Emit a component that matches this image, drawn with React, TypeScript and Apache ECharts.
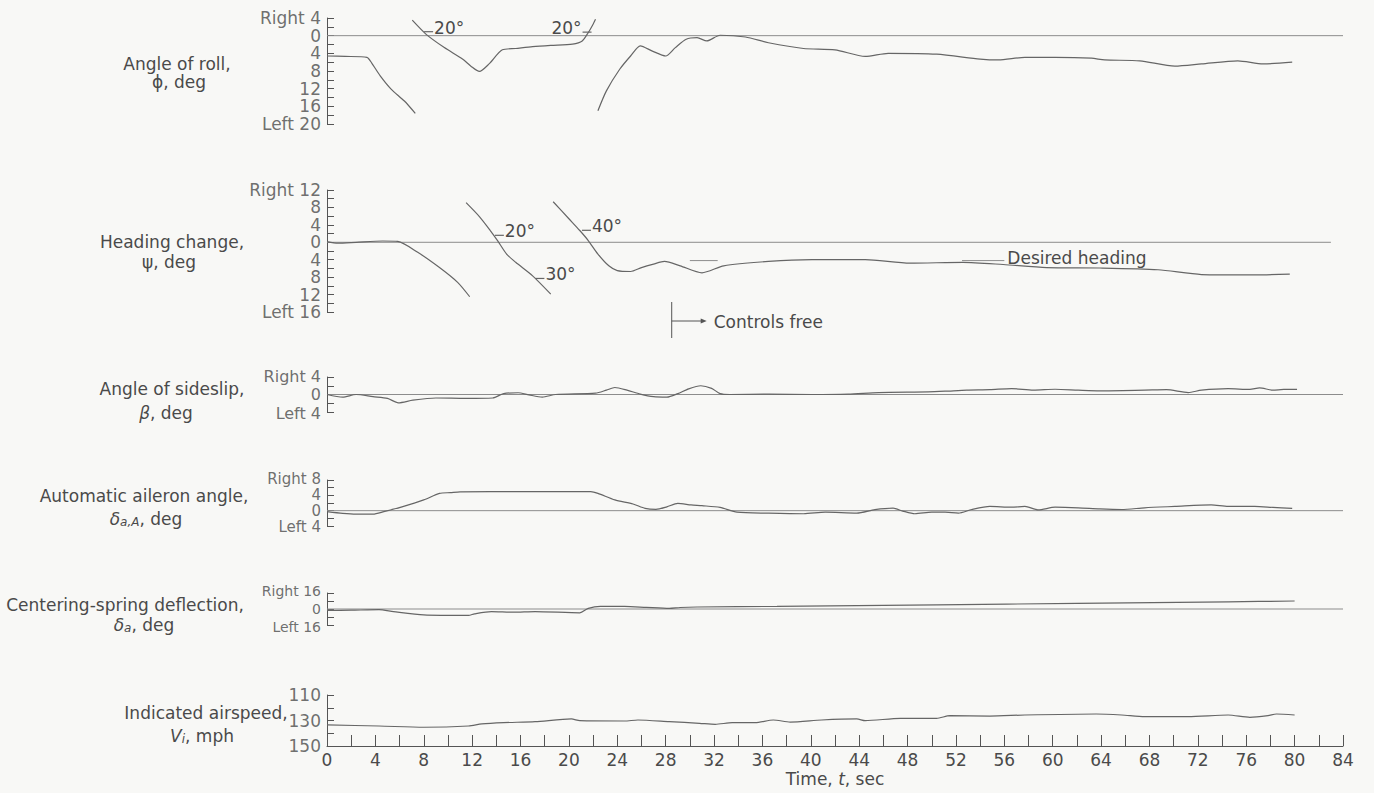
import React, { useEffect, useRef } from 'react';
import * as echarts from 'echarts';

// ---------- DATA (time in sec, values: right positive, left negative) ----------
const zeroSpan = [0, 84];
const headingZeroSpan = [0, 83];

const rollSegA = [[0, -4.6], [1.5, -4.7], [3.3, -4.9], [3.7, -6.2], [4.4, -9.1], [5.3, -12.1], [6.4, -14.8], [7.3, -17.6]];
const rollSegB = [[7.05, 3.5], [8.2, 0.3], [9.7, -2.7], [11.2, -5.3], [11.9, -6.9], [12.6, -8.1], [13.4, -6.4], [14.5, -3.2], [15.6, -2.9], [17.0, -2.5], [18.5, -2.2], [20.3, -1.9], [21.1, -1.2], [21.6, 0.7], [22.0, 2.6], [22.2, 3.7]];
const rollSegC = [[22.4, -17], [23.1, -12.5], [24.2, -7.6], [25.1, -4.6], [25.9, -2.3], [26.9, -3.5], [28.0, -4.6], [28.8, -2.7], [29.7, -0.8], [30.6, -0.45], [31.4, -1.2], [32.5, 0.1], [34.6, -0.3], [36.5, -1.6], [39.4, -2.9], [42.0, -3.2], [44.5, -4.7], [46.4, -4.0], [50.4, -4.2], [54.0, -5.3], [55.5, -5.5], [57.7, -4.9], [60.2, -4.9], [63.2, -5.1], [64.3, -5.5], [67.2, -5.7], [70.1, -6.9], [72.3, -6.4], [75.3, -5.7], [77.4, -6.4], [79.8, -6.0]];
const rollMarks = [
  { t: 8.4, v: 0.9, text: '20°', side: 'right' },
  { t: 21.5, v: 0.8, text: '20°', side: 'left' },
];

const headSegA = [[0, 0.16], [0.9, -0.2], [2.4, 0], [4.6, 0.3], [5.85, 0.2], [7.5, -2.3], [9.3, -5.8], [10.8, -9.2], [11.8, -12.5]];
const headSegB = [[11.5, 9.1], [12.6, 5.9], [13.5, 2.7], [14.1, 0.4], [14.85, -2.7], [15.6, -4.6], [17.0, -7.7], [18.5, -11.9]];
const headSegC = [[18.7, 9.3], [20.0, 5.4], [20.9, 2.7], [21.6, 0.4], [22.4, -2.7], [23.3, -5.4], [24.0, -6.5], [25.1, -6.7], [26.0, -5.8], [27.0, -5.0], [27.9, -4.4], [29.2, -5.4], [31.0, -7.0], [32.8, -5.4], [36.5, -4.4], [40.1, -4.0], [44.5, -4.0], [48.2, -4.8], [52.6, -4.6], [55.9, -5.1], [59.5, -5.8], [63.9, -5.9], [68.7, -6.3], [72.3, -7.4], [76.7, -7.5], [79.6, -7.3]];
const headMarks = [
  { t: 14.25, v: 1.6, text: '20°', side: 'right' },
  { t: 17.6, v: -8.3, text: '30°', side: 'right' },
  { t: 21.45, v: 2.75, text: '40°', side: 'right' },
];
const desiredHeading1 = [[30.0, -4.2], [32.3, -4.2]];
const desiredHeading2 = [[52.5, -4.2], [56.0, -4.2]];
const controlsFreeTime = 28.5;

const sideslip = [[0, 0], [1.3, -0.6], [2.4, 0], [3.8, -0.5], [5.0, -0.9], [5.9, -1.9], [7.1, -1.3], [9.0, -0.8], [11.5, -0.9], [13.7, -0.8], [14.6, 0.2], [15.8, 0.4], [16.7, -0.1], [17.8, -0.6], [18.9, 0], [22.2, 0.3], [23.1, 1.0], [23.8, 1.6], [24.8, 1.0], [25.9, 0.1], [27.0, -0.5], [28.1, -0.6], [29.0, 0.2], [29.9, 1.3], [30.9, 2.0], [31.8, 1.4], [32.5, 0.2], [33.3, 0], [36.5, 0.1], [40.1, 0], [43.1, 0.1], [45.6, 0.45], [49.7, 0.6], [51.1, 0.75], [52.9, 1.0], [54.8, 1.1], [56.6, 1.35], [58.4, 1.0], [60.2, 1.2], [62.1, 1.0], [63.9, 0.85], [67.6, 1.0], [69.4, 1.1], [71.2, 0.45], [72.3, 1.0], [74.5, 1.35], [76.3, 1.15], [77.1, 1.5], [78.2, 1.0], [79.1, 1.15], [80.2, 1.15]];

const aileron = [[0, -0.25], [1.3, -0.7], [2.4, -0.9], [3.8, -0.9], [4.7, -0.25], [6.2, 1.0], [8.0, 2.8], [9.3, 4.5], [10.2, 4.7], [11.0, 4.9], [13.5, 4.95], [17.2, 4.95], [21.8, 4.95], [22.4, 4.5], [23.8, 2.8], [25.3, 1.75], [26.3, 0.6], [27.2, 0.35], [28.1, 1.0], [29.0, 1.9], [30.1, 1.5], [31.0, 1.3], [32.5, 0.85], [33.9, -0.4], [36.5, -0.65], [39.4, -0.8], [41.2, -0.4], [43.8, -0.65], [45.3, 0.25], [46.8, 0.65], [47.6, -0.1], [48.6, -0.8], [50.0, -0.4], [51.1, -0.4], [52.2, -0.65], [53.3, 0.3], [54.8, 1.1], [56.6, 0.9], [57.7, 1.1], [58.8, 0.2], [60.2, 0.9], [62.1, 0.75], [63.9, 0.45], [65.7, 0.3], [67.6, 0.75], [70.1, 1.1], [73.1, 1.5], [74.5, 1.1], [76.7, 1.1], [78.2, 0.85], [79.8, 0.6]];

const centering = [[0, -1.5], [2.0, -1.2], [4.3, -0.7], [5.5, -2.6], [8.0, -5.8], [11.7, -6.4], [12.2, -4.8], [13.6, -2.6], [15.4, -3.2], [17.2, -2.6], [20.9, -3.8], [21.6, 0.6], [22.6, 2.6], [24.6, 2.6], [26.4, 1.6], [28.3, 0.6], [29.2, 1.5], [30.6, 2.0], [37.2, 2.6], [50.4, 4.2], [62.0, 5.6], [74.5, 7.2], [80.0, 8.0]];

const airspeed = [[0, 133.5], [4.3, 134.3], [8.0, 135.3], [11.7, 134.3], [12.8, 132.7], [14.6, 131.7], [17.2, 130.9], [20.2, 128.8], [20.9, 130.1], [24.6, 130.4], [25.7, 129.6], [28.3, 130.9], [30.8, 132.2], [32.1, 133], [33.5, 131.7], [35.4, 131.7], [36.9, 129.6], [38.3, 131.2], [40.9, 129.6], [43.8, 128.8], [44.5, 130.1], [47.4, 128.3], [50.4, 128.3], [51.5, 126.2], [54.8, 126.5], [57.7, 125.7], [63.6, 124.9], [65.7, 125.7], [67.6, 127], [71.2, 127], [74.5, 125.7], [76.3, 127.5], [77.8, 126.2], [78.5, 124.9], [80.0, 125.7]];

// axis ranges [min, max, interval] and tick labels
const rollAxis = [-20, 4, 4];
const headAxis = [-16, 12, 4];
const slipAxis = [-4, 4, 4];
const aileronAxis = [-4, 8, 4];
const springAxis = [-16, 16, 16];
const speedAxis = [110, 150, 20];
const timeAxis = [0, 84, 4];

const rollLabels = [4, 0, -4, -8, -12, -16, -20];
const headLabels = [12, 8, 4, 0, -4, -8, -12, -16];
const slipLabels = [4, 0, -4];
const aileronLabels = [8, 4, 0, -4];
const springLabels = [16, 0, -16];
const speedLabels = [110, 130, 150];

// ---------- STYLE ----------
const FONT = '"DejaVu Sans", "Liberation Sans", sans-serif';
const FW = 'normal';
const TXT = '#4a4a4a';
const AX = '#555';
const TRACE = '#666';
const ZERO = '#8c8c8c';

const grids = [
  { top: 18, height: 106 },
  { top: 190, height: 122 },
  { top: 377, height: 35 },
  { top: 480, height: 46 },
  { top: 593, height: 32 },
  { top: 695, height: 51 },
];

function sideText(v: number, min: number, max: number) {
  return v === max ? `Right ${Math.abs(v)}` : v === min ? `Left ${Math.abs(v)}` : `${Math.abs(v)}`;
}

function yAxis(idx: number, ax: number[], inverse = false) {
  return {
    type: 'value', gridIndex: idx, min: ax[0], max: ax[1], interval: ax[2], inverse,
    axisLine: { show: true, lineStyle: { color: AX, width: 1 } },
    axisTick: { show: true, inside: true, length: 7, lineStyle: { color: AX, width: 1 } },
    minorTick: { show: true, splitNumber: 2, length: 7, lineStyle: { color: AX, width: 1 } },
    splitLine: { show: false },
    minorSplitLine: { show: false },
    axisLabel: { show: false },
  };
}

function tickLabels(idx: number, values: number[], ax: number[], fs: number, sided: boolean, edgeShift = 0) {
  return {
    type: 'scatter', xAxisIndex: idx, yAxisIndex: idx, symbolSize: 0, silent: true, clip: false,
    data: values.map((v) => ({
      value: [0, v],
      label: {
        show: true, position: 'left', distance: 6,
        formatter: sided ? sideText(v, ax[0], ax[1]) : `${v}`,
        offset: [0, v === ax[1] ? -edgeShift : v === ax[0] ? edgeShift : 0],
        color: TXT, fontSize: fs, fontFamily: FONT, fontWeight: FW, lineHeight: fs - 2,
      },
    })),
  };
}

function xAxis(idx: number, visible: boolean) {
  return {
    type: 'value', gridIndex: idx, min: timeAxis[0], max: timeAxis[1], interval: timeAxis[2],
    show: visible,
    axisLine: { show: visible, onZero: false, lineStyle: { color: AX, width: 1 } },
    axisTick: { show: visible, inside: true, length: 11, lineStyle: { color: AX, width: 1 } },
    minorTick: { show: visible, splitNumber: 2, length: 11, lineStyle: { color: AX, width: 1 } },
    splitLine: { show: false },
    axisLabel: { show: visible, color: TXT, fontSize: 17, fontFamily: FONT, fontWeight: FW, margin: 5 },
    name: visible ? 'Time, {i|t}, sec' : '',
    nameLocation: 'middle',
    nameGap: 24,
    nameTextStyle: {
      color: TXT, fontSize: 17, fontFamily: FONT, fontWeight: FW,
      rich: { i: { fontStyle: 'italic', fontSize: 17, fontFamily: FONT, fontWeight: FW, color: TXT } },
    },
  };
}

function line(idx: number, data: number[][], extra: any = {}) {
  return {
    type: 'line', xAxisIndex: idx, yAxisIndex: idx, data, symbol: 'none', smooth: 0.25,
    lineStyle: { color: TRACE, width: 1.2 }, silent: true, ...extra,
  };
}

function zeroLine(idx: number, span: number[]) {
  return {
    type: 'line', xAxisIndex: idx, yAxisIndex: idx, data: span.map((t) => [t, 0]), symbol: 'none',
    lineStyle: { color: ZERO, width: 1 }, silent: true,
  };
}

function marks(list: any[]) {
  return {
    symbol: 'rect',
    symbolSize: [9, 1.2],
    itemStyle: { color: TRACE },
    data: list.map((m) => ({
      coord: [m.t, m.v],
      label: {
        show: true, position: m.side, distance: 1, formatter: m.text, offset: [0, -4],
        color: TXT, fontSize: 17, fontFamily: FONT, fontWeight: FW,
      },
    })),
  };
}

const RICH = {
  i: { fontStyle: 'italic', fontSize: 17, fontFamily: FONT, fontWeight: FW, fill: TXT, color: TXT },
  g: { fontSize: 17, fontFamily: FONT, fontWeight: FW, fill: TXT, color: TXT },
  sub: { fontStyle: 'italic', fontSize: 12, fontFamily: FONT, fontWeight: FW, fill: TXT, color: TXT, padding: [6, 0, 0, 0] },
};

function label(text: string, x: number, y: number, align = 'center', fs = 17) {
  return {
    type: 'text', x, y, silent: true,
    style: {
      text, fill: TXT, fontSize: fs, fontFamily: FONT, fontWeight: FW,
      align, verticalAlign: 'middle', rich: RICH,
    },
  };
}

export default function App() {
  const ref = useRef<HTMLDivElement>(null);
  useEffect(() => {
    if (!ref.current) return;
    const chart = echarts.init(ref.current, undefined, { renderer: 'svg' });
    const option: any = {
      animation: false,
      backgroundColor: '#f8f8f6',
      grid: grids.map((g) => ({ left: 327, right: 31, top: g.top, height: g.height, containLabel: false })),
      xAxis: grids.map((_, i) => xAxis(i, i === 5)),
      yAxis: [
        yAxis(0, rollAxis),
        yAxis(1, headAxis),
        yAxis(2, slipAxis),
        yAxis(3, aileronAxis),
        yAxis(4, springAxis),
        yAxis(5, speedAxis, true),
      ],
      series: [
        tickLabels(0, rollLabels, rollAxis, 17, true),
        tickLabels(1, headLabels, headAxis, 17, true),
        tickLabels(2, slipLabels, slipAxis, 16, true, 1),
        tickLabels(3, aileronLabels, aileronAxis, 15, true, 1),
        tickLabels(4, springLabels, springAxis, 14, true, 2),
        tickLabels(5, speedLabels, speedAxis, 17, false),
        zeroLine(0, zeroSpan),
        line(0, rollSegA),
        line(0, rollSegB, { markPoint: marks(rollMarks.slice(0, 1)) }),
        line(0, rollSegC, { markPoint: marks(rollMarks.slice(1)) }),
        zeroLine(1, headingZeroSpan),
        line(1, headSegA),
        line(1, headSegB, { markPoint: marks(headMarks.slice(0, 2)) }),
        line(1, headSegC, { markPoint: marks(headMarks.slice(2)) }),
        line(1, desiredHeading1, { smooth: false, lineStyle: { color: ZERO, width: 1 } }),
        line(1, desiredHeading2, {
          smooth: false, lineStyle: { color: ZERO, width: 1 },
          endLabel: { show: true, formatter: 'Desired heading', distance: 3, offset: [0, -3], color: TXT, fontSize: 17, fontFamily: FONT, fontWeight: FW },
        }),
        zeroLine(2, zeroSpan),
        line(2, sideslip),
        zeroLine(3, zeroSpan),
        line(3, aileron),
        zeroLine(4, zeroSpan),
        line(4, centering),
        line(5, airspeed),
      ],
    };
    chart.setOption(option);

    const px = chart.convertToPixel({ xAxisIndex: 1 }, controlsFreeTime) as number;
    const stroke = { stroke: AX, lineWidth: 1 };
    chart.setOption({
      graphic: [
        label('Angle of roll,', 177, 64),
        label('{g|ϕ}, deg', 179, 82),
        label('Heading change,', 172, 242),
        label('{g|ψ}, deg', 169, 262),
        label('Angle of sideslip,', 172, 389),
        label('{i|β}, deg', 166, 413),
        label('Automatic aileron angle,', 144, 496),
        label('{i|δ}{sub|a,A}, deg', 146, 519),
        label('Centering-spring deflection,', 125, 605),
        label('{i|δ}{sub|a}, deg', 144, 625),
        label('Indicated airspeed,', 206, 713),
        label('{i|V}{sub|i}, mph', 202, 736),
        { type: 'line', silent: true, shape: { x1: px, y1: 302, x2: px, y2: 338 }, style: stroke },
        { type: 'line', silent: true, shape: { x1: px, y1: 321, x2: px + 30, y2: 321 }, style: stroke },
        { type: 'polygon', silent: true, shape: { points: [[px + 29, 318.5], [px + 35, 321], [px + 29, 323.5]] }, style: { fill: AX } },
        label('Controls free', px + 42, 322, 'left', 17),
      ],
    });
    return () => chart.dispose();
  }, []);
  return <div ref={ref} style={{ position: 'absolute', left: 0, top: 0, width: 1374, height: 793 }} />;
}
